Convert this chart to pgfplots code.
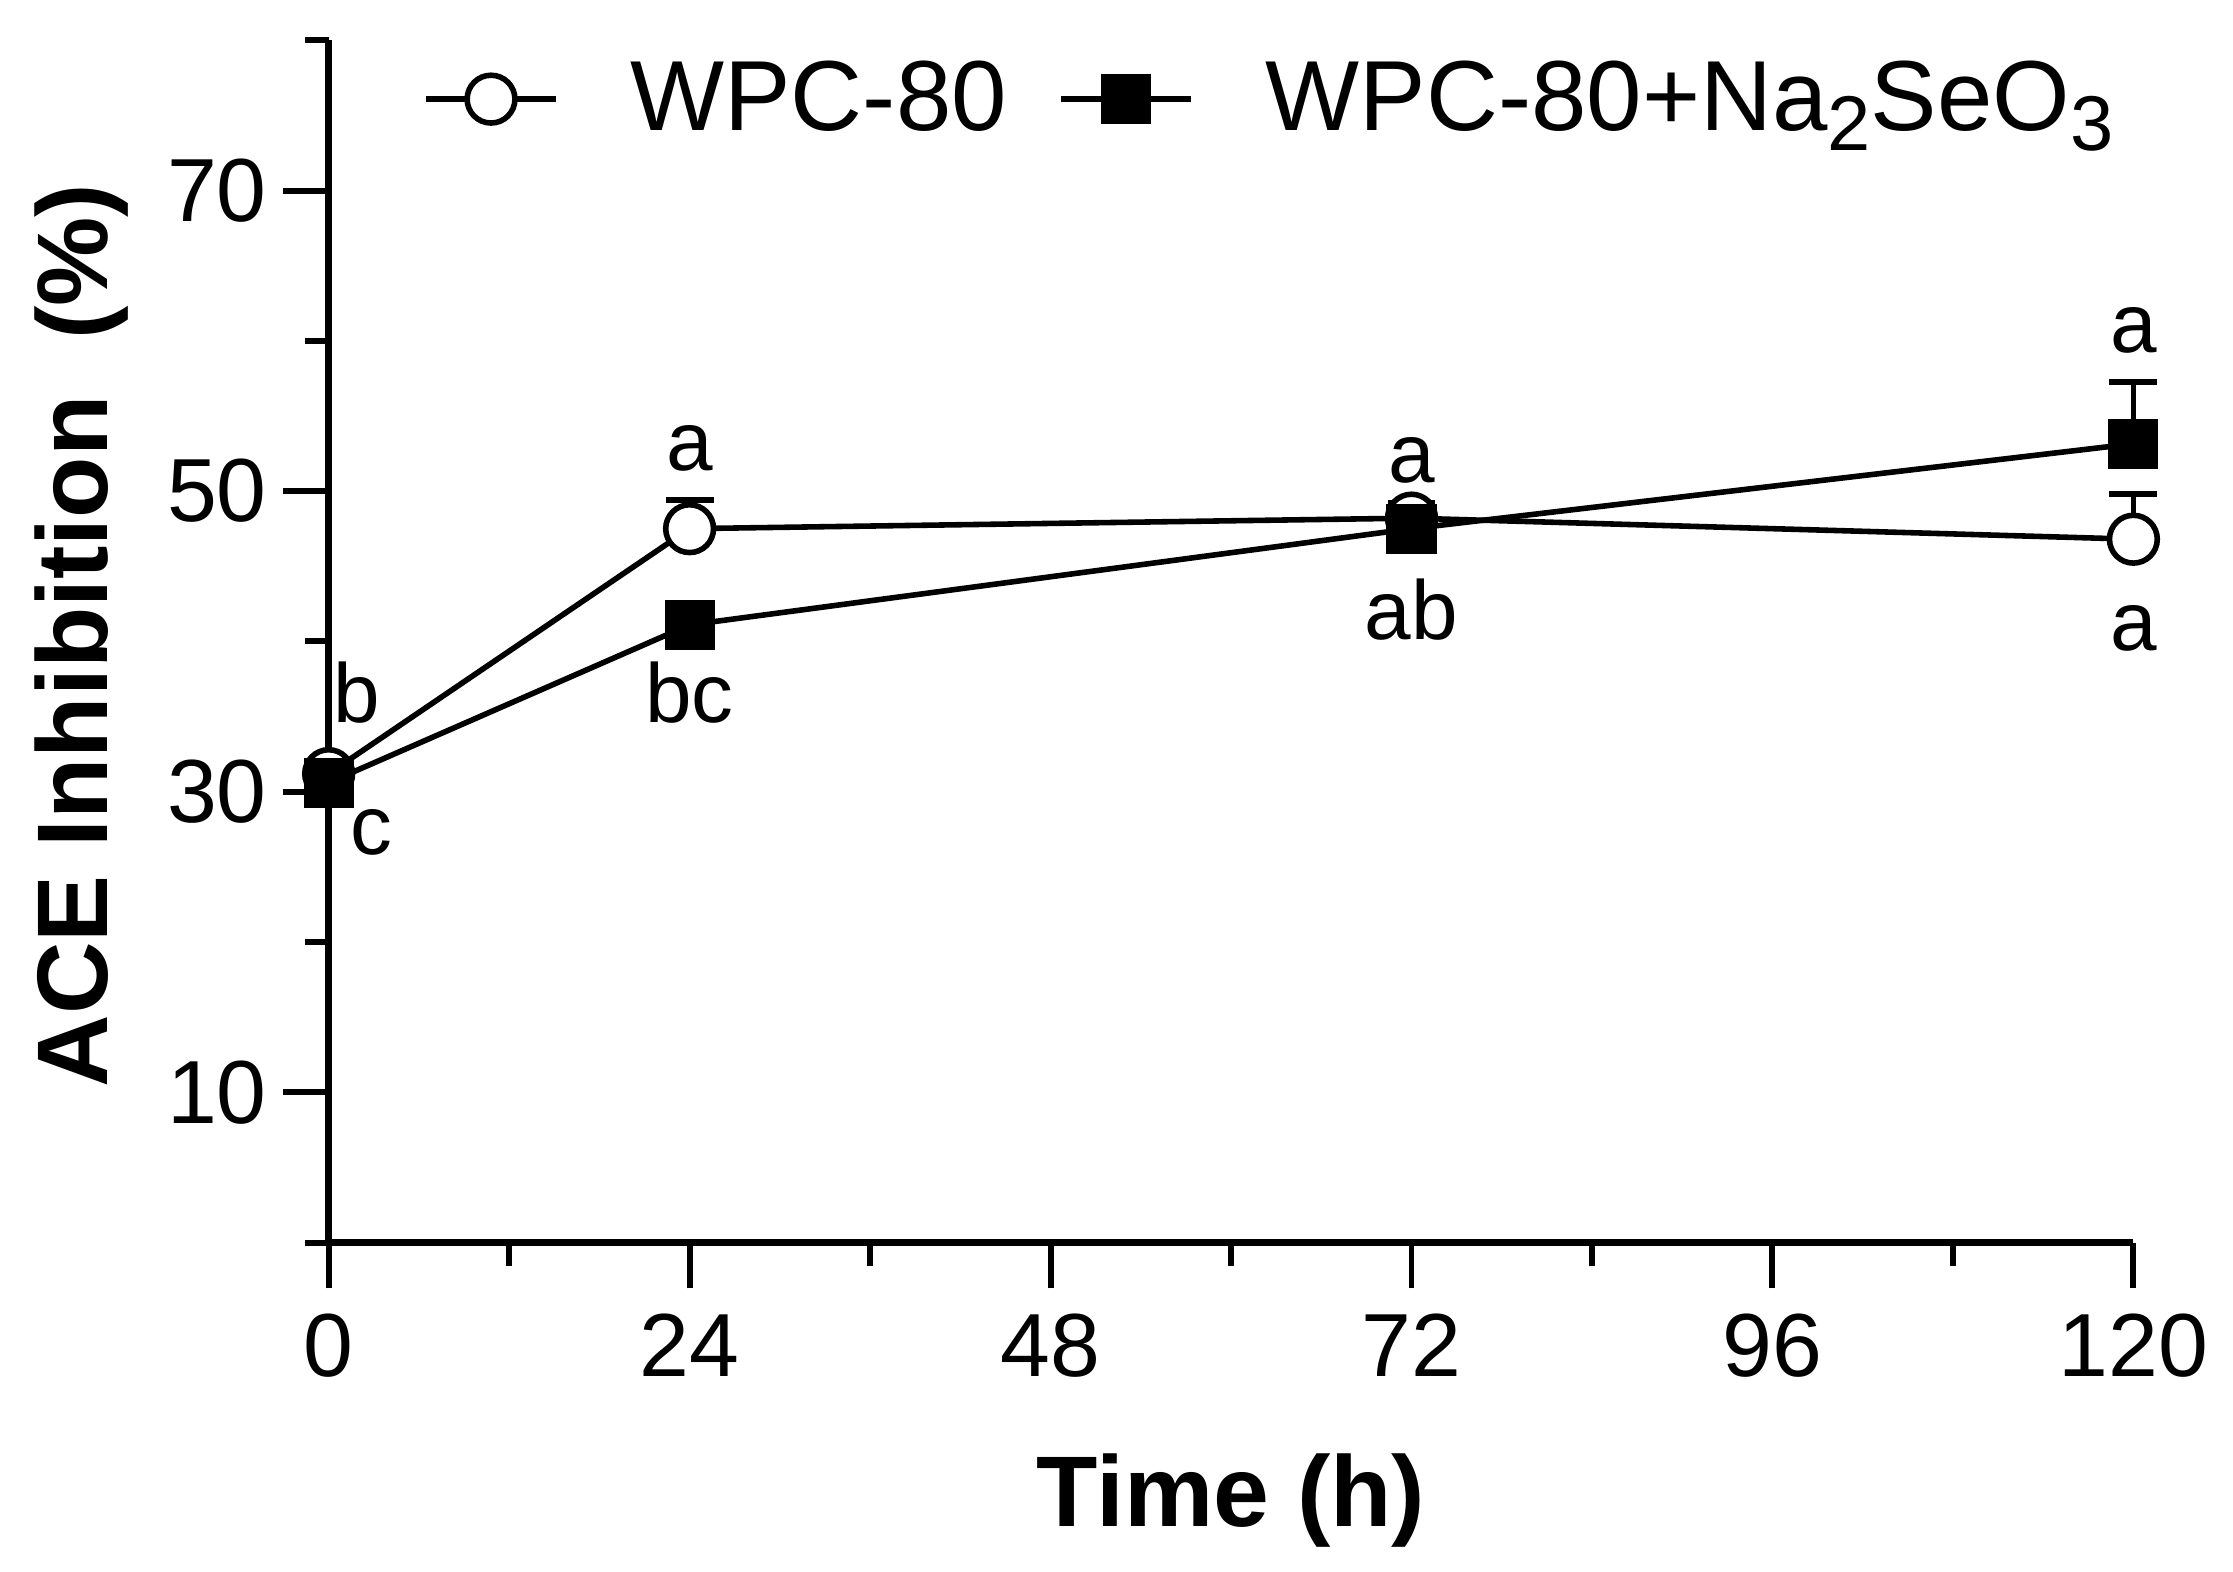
\documentclass[border=0pt]{standalone}
\usepackage{fontspec}
\setmainfont{Liberation Sans}
\usepackage{pgfplots}
\pgfplotsset{compat=1.18}
\newcommand{\sub}[1]{{\fontsize{19.5}{24}\selectfont\raisebox{-5pt}{#1}}}
\begin{document}
\begin{tikzpicture}
\begin{axis}[
  scale only axis,
  width=453pt, height=301.8pt,
  xmin=0, xmax=120, ymin=0, ymax=80,
  axis x line=bottom, axis y line=left,
  axis line style={line width=1.7pt,-},
  every tick/.style={line width=1.5pt,black},
  tick align=outside,
  xtick={0,24,48,72,96,120},
  minor xtick={12,36,60,84,108},
  ytick={10,30,50,70},
  minor ytick={0,20,40,60,80},
  major tick length=11.5pt,
  minor tick length=6pt,
  /pgf/number format/assume math mode=true,
  tick label style={font=\fontsize{22.5}{27}\selectfont},
  xticklabel style={yshift=-3pt},
  yticklabel style={xshift=-0.5pt},
  xlabel={\textbf{Time (h)}},
  ylabel={\textbf{ACE Inhibition\ \ (\%)}},
  label style={font=\fontsize{25.2}{30}\selectfont},
  xlabel style={at={(axis description cs:0.5,-0.2147)},anchor=center},
  ylabel style={at={(axis description cs:-0.137,0.505)},anchor=center},
  legend style={at={(axis description cs:0.052,0.951)},anchor=west,draw=none,fill=none,xshift=-3pt,
    font=\fontsize{25}{30}\selectfont,
    /tikz/every odd column/.append style={column sep=16pt},
    /tikz/every even column/.append style={column sep=11pt}},
  legend columns=2,
  legend image code/.code={\draw[mark repeat=2,mark phase=2,#1] plot coordinates {(0pt,0pt) (16.3pt,0pt) (32.6pt,0pt)};},
  clip=false,
]
\addplot[black, line width=1.4pt, mark=*, mark size=6pt,
  mark options={fill=white, line width=1.4pt},
  error bars/.cd, y dir=plus, y explicit,
  error bar style={line width=1.4pt},
  error mark options={rotate=90, mark size=6pt, line width=1.4pt}]
  coordinates {(0,31.2) +- (0,0.5) (24,47.5) +- (0,1.9) (72,48.2) +- (0,1.0) (120,46.8) +- (0,3.0)};
\addlegendentry{WPC-80}
\addplot[black, line width=1.4pt, mark=square*, mark size=5.6pt,
  mark options={fill=black, line width=1.4pt},
  error bars/.cd, y dir=plus, y explicit,
  error bar style={line width=1.4pt},
  error mark options={rotate=90, mark size=6pt, line width=1.4pt}]
  coordinates {(0,30.6) +- (0,0.3) (24,41.1) +- (0,0) (72,47.5) +- (0,0.4) (120,53.15) +- (0,4.1)};
\addlegendentry{WPC-80+Na\sub{2}SeO\sub{3}}
\begin{scope}[every node/.style={font=\fontsize{21}{25}\selectfont, anchor=base, inner sep=0pt}]
\node at (axis cs:1.9,34.6) {b};
\node at (axis cs:2.85,25.8) {c};
\node at (axis cs:24,51.4) {a};
\node at (axis cs:24,34.6) {bc};
\node at (axis cs:72,50.6) {a};
\node at (axis cs:72,40.1) {ab};
\node at (axis cs:120,59.2) {a};
\node at (axis cs:120,39.4) {a};
\end{scope}
\end{axis}
\path ([shift={(-82.5pt,-82.5pt)}]current axis.south west) rectangle ([shift={(25pt,10.1pt)}]current axis.north east);
\end{tikzpicture}
\end{document}
